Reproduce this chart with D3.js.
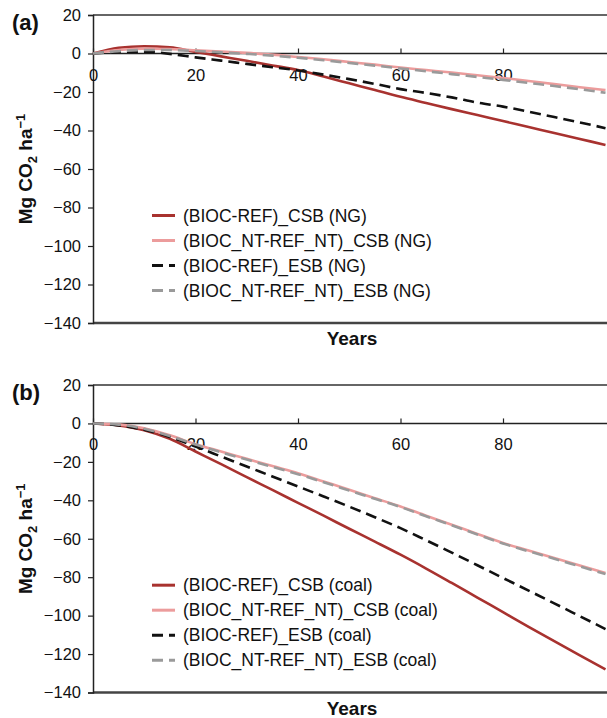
<!DOCTYPE html>
<html>
<head>
<meta charset="utf-8">
<script src="https://cdn.jsdelivr.net/npm/d3@7"></script>
<style>
  body { margin: 0; background: #fff; }
  text { font-family: "Liberation Sans", Arial, sans-serif; fill: #111; }
  .tick-label { font-size: 16.5px; }
  .legend { font-size: 17.5px; }
  .label { font-size: 19px; font-weight: bold; }
  .panel { font-size: 22px; font-weight: bold; }
</style>
</head>
<body>
<svg id="chart" width="607" height="718"></svg>
<script>
// years on the x axis
let years = [0, 5, 10, 15, 20, 25, 30, 35, 40, 45, 50, 55, 60, 65, 70, 75, 80, 85, 90, 95, 100];

// panel (a): natural gas
let ngCsb = [0, 3, 3.8, 3.2, 0.8, -1.5, -3.8, -6.2, -8.6, -12, -15.5, -19, -22.5, -25.7, -28.9, -32, -35.1, -38.2, -41.3, -44.4, -47.5];
let ngCsbNt = [0, 1.8, 2.5, 2.3, 1.7, 1, 0.3, -0.6, -1.8, -3, -4.4, -5.8, -7.3, -8.6, -9.9, -11.3, -12.7, -14.3, -15.9, -17.5, -19];
let ngEsb = [0, 0.8, 1, -0.2, -2, -3.7, -5.4, -7.1, -8.8, -11, -13.3, -15.8, -18.5, -20.5, -22.8, -25.5, -27.6, -30.2, -33, -35.8, -38.8];
let ngEsbNt = [0, 1.2, 1.8, 1.8, 1.3, 0.6, -0.2, -1.1, -2.2, -3.5, -4.9, -6.3, -7.8, -9.2, -10.7, -12.2, -13.7, -15.3, -16.9, -18.6, -20.4];

// panel (b): coal
let coalCsb = [0, -1, -3.5, -8, -14.6, -21.2, -27.9, -34.6, -41.3, -48, -54.8, -61.5, -68.3, -75.5, -83, -90.6, -98.2, -105.8, -113.3, -120.7, -128];
let coalCsbNt = [0, -0.5, -2.5, -6.2, -10.8, -14.6, -18.4, -22.2, -25.9, -30.2, -34.5, -38.9, -43.2, -48, -52.7, -57.5, -62.2, -66.1, -70, -73.9, -77.8];
let coalEsb = [0, -1, -3.3, -7, -12, -17.2, -22.4, -27.6, -32.8, -38, -43.3, -48.8, -54.5, -60.8, -67.2, -73.8, -80.4, -87, -93.6, -100.3, -107];
let coalEsbNt = [0, -0.6, -2.8, -6.5, -11, -15, -18.8, -22.6, -26.4, -30.6, -34.9, -39.2, -43.5, -48.3, -53, -57.8, -62.5, -66.5, -70.4, -74.4, -78.4];

let xTicks = [0, 20, 40, 60, 80];
let yTicks = [20, 0, -20, -40, -60, -80, -100, -120, -140];

let ngLegend = ["(BIOC-REF)_CSB (NG)", "(BIOC_NT-REF_NT)_CSB (NG)", "(BIOC-REF)_ESB (NG)", "(BIOC_NT-REF_NT)_ESB (NG)"];
let coalLegend = ["(BIOC-REF)_CSB (coal)", "(BIOC_NT-REF_NT)_CSB (coal)", "(BIOC-REF)_ESB (coal)", "(BIOC_NT-REF_NT)_ESB (coal)"];

let lineColors = ["#a8322f", "#ec9c9c", "#111111", "#9a9a9a"];
let lineDash = [null, null, "11,6", "11,6"];

let svg = d3.select("#chart");

function draw_panel(series, legend, tag, top, bottom) {
  let xScale = d3.scaleLinear().domain([0, 100]).range([93, 605.5]);
  let yScale = d3.scaleLinear().domain([-140, 20]).range([bottom, top]);
  let g = svg.append("g");

  // frame: top and bottom lines
  g.append("line")
    .attr("x1", xScale(0)).attr("x2", 620)
    .attr("y1", yScale(20)).attr("y2", yScale(20))
    .attr("stroke", "#333").attr("stroke-width", 1.5);
  g.append("line")
    .attr("x1", xScale(0)).attr("x2", 620)
    .attr("y1", yScale(-140)).attr("y2", yScale(-140))
    .attr("stroke", "#444").attr("stroke-width", 2.5);

  // Y Axis
  let y_axis = d3.axisLeft(yScale).tickValues(yTicks).tickSize(5).tickPadding(7)
    .tickFormat(d => (d < 0 ? "\u2212" + Math.abs(d) : d));
  let ya = g.append("g")
    .attr("transform", `translate(${xScale(0)},0)`)
    .call(y_axis);
  ya.select(".domain").attr("stroke", "#222").attr("stroke-width", 1.5);
  ya.selectAll(".tick line").attr("stroke", "#222").attr("stroke-width", 1.2);
  ya.selectAll("text").attr("class", "tick-label").attr("fill", "#111").attr("font-size", null).attr("font-family", null);

  // X Axis on the zero line, ticks pointing up
  let x_axis = d3.axisTop(xScale).tickValues(xTicks).tickSize(5).tickSizeOuter(0);
  let xa = g.append("g")
    .attr("transform", `translate(0,${yScale(0)})`)
    .call(x_axis);
  xa.select(".domain").attr("stroke", "#222").attr("stroke-width", 1.5)
    .attr("d", `M${xScale(0)},0H620`);
  xa.selectAll(".tick line").attr("stroke", "#222").attr("stroke-width", 1.2);
  xa.selectAll("text")
    .attr("class", "tick-label")
    .attr("fill", "#111").attr("font-size", null).attr("font-family", null)
    .attr("y", 27).attr("dy", 0);

  // curves
  let line = d3.line()
    .x((d, i) => xScale(years[i]))
    .y(d => yScale(d))
    .curve(d3.curveMonotoneX);
  series.forEach(function (s, i) {
    g.append("path")
      .attr("d", line(s))
      .attr("fill", "none")
      .attr("stroke", lineColors[i])
      .attr("stroke-width", 2.6)
      .attr("stroke-dasharray", lineDash[i]);
  });

  // Legend
  let legendTop = yScale(-80) + 8;
  legend.forEach(function (d, i) {
    let lg = g.append("g").attr("transform", `translate(152,${legendTop + i * 25})`);
    lg.append("line")
      .attr("x1", 0).attr("x2", 23)
      .attr("y1", 0).attr("y2", 0)
      .attr("stroke", lineColors[i])
      .attr("stroke-width", 3)
      .attr("stroke-dasharray", lineDash[i]);
    lg.append("text")
      .attr("class", "legend")
      .attr("x", 31)
      .attr("dy", "0.35em")
      .text(d);
  });

  // panel tag
  g.append("text").attr("class", "panel").attr("x", 12).attr("y", top + 15).text(tag);

  // Labels
  g.append("text")
    .attr("class", "label")
    .attr("text-anchor", "middle")
    .attr("x", 352)
    .attr("y", bottom + 22)
    .text("Years");

  let yl = g.append("text")
    .attr("class", "label")
    .attr("text-anchor", "middle")
    .attr("transform", `translate(32,${(top + bottom) / 2}) rotate(270)`);
  yl.append("tspan").text("Mg CO");
  yl.append("tspan").attr("font-size", "13px").attr("dy", 5).text("2");
  yl.append("tspan").attr("dy", -5).text(" ha");
  yl.append("tspan").attr("font-size", "13px").attr("dy", -7).text("\u22121");
}

draw_panel([ngCsb, ngCsbNt, ngEsb, ngEsbNt], ngLegend, "(a)", 15, 323);
draw_panel([coalCsb, coalCsbNt, coalEsb, coalEsbNt], coalLegend, "(b)", 385, 692.5);
</script>
</body>
</html>
